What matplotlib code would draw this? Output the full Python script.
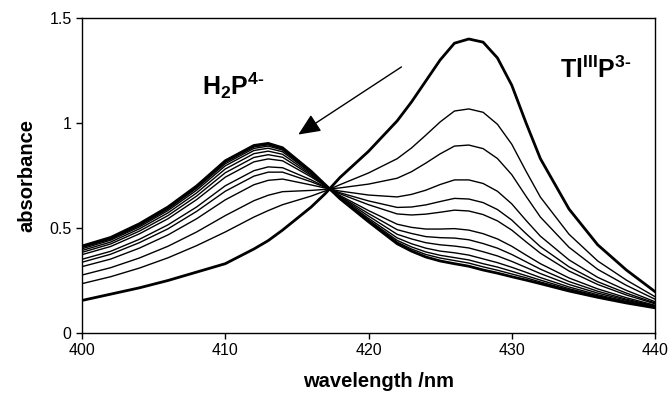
import matplotlib
matplotlib.use('Agg')
import matplotlib.pyplot as plt

plt.rcParams['font.family'] = ['Liberation Sans', 'DejaVu Sans']
plt.rcParams['mathtext.fontset'] = 'custom'
plt.rcParams['mathtext.rm'] = 'Liberation Sans'
plt.rcParams['mathtext.bf'] = 'Liberation Sans:bold'

# wavelength grid (nm)
wl = [400, 402, 404, 406, 408, 410, 412, 413, 414, 416, 417, 418, 420, 422,
      423, 424, 425, 426, 427, 428, 429, 430, 431, 432, 434, 436, 438, 440]

# spectra, from free base (H2P4-) to TlIIIP3-
s00 = [.414, .455, .520, .600, .700, .820, .893, .903, .882, .770, .705, .640, .530, .425,
       .390, .362, .343, .330, .318, .300, .285, .268, .252, .235, .200, .170, .143, .120]
s01 = [.410, .451, .516, .595, .694, .813, .886, .896, .876, .768, .704, .641, .535, .433,
       .400, .374, .357, .345, .333, .315, .299, .281, .263, .243, .206, .174, .145, .121]
s02 = [.407, .447, .511, .590, .689, .806, .879, .890, .871, .765, .704, .643, .539, .441,
       .410, .386, .370, .359, .348, .330, .314, .294, .273, .252, .211, .177, .147, .122]
s03 = [.401, .442, .505, .583, .680, .796, .869, .880, .863, .762, .703, .645, .546, .453,
       .425, .404, .390, .382, .371, .353, .335, .313, .289, .264, .219, .182, .151, .124]
s04 = [.393, .433, .496, .572, .667, .781, .854, .866, .851, .756, .702, .648, .557, .470,
       .448, .430, .420, .414, .405, .387, .367, .341, .312, .283, .231, .190, .156, .126]
s05 = [.384, .424, .485, .559, .652, .763, .836, .849, .837, .750, .700, .651, .569, .492,
       .474, .459, .454, .452, .444, .426, .404, .374, .339, .304, .245, .199, .161, .129]
s06 = [.373, .412, .472, .544, .635, .742, .815, .829, .820, .743, .699, .655, .583, .518,
       .503, .495, .495, .497, .490, .473, .448, .413, .371, .330, .262, .210, .168, .132]
s07 = [.351, .389, .446, .515, .600, .701, .773, .791, .787, .729, .695, .663, .611, .567,
       .562, .566, .575, .585, .581, .564, .534, .490, .434, .380, .295, .231, .181, .139]
s08 = [.337, .375, .430, .496, .579, .675, .747, .766, .766, .720, .693, .668, .629, .598,
       .600, .610, .626, .641, .638, .621, .588, .538, .473, .411, .315, .244, .190, .143]
s09 = [.316, .352, .404, .467, .544, .634, .706, .727, .733, .705, .690, .676, .657, .648,
       .660, .680, .707, .729, .729, .712, .675, .615, .536, .461, .348, .265, .203, .149]
s10 = [.276, .311, .357, .413, .481, .559, .630, .656, .673, .679, .684, .691, .709, .737,
       .768, .809, .853, .890, .895, .878, .831, .754, .651, .552, .408, .303, .227, .161]
s11 = [.235, .268, .309, .358, .416, .481, .552, .583, .611, .652, .677, .706, .762, .830,
       .881, .942, 1.005, 1.057, 1.067, 1.051, .994, .899, .770, .647, .470, .343, .252, .173]
s12 = [.155, .185, .215, .250, .290, .330, .400, .440, .490, .600, .665, .740, .865, 1.010,
       1.100, 1.200, 1.300, 1.380, 1.400, 1.385, 1.310, 1.180, 1.000, .830, .590, .420, .300, .197]

thin = [s01, s02, s03, s04, s05, s06, s07, s08, s09, s10, s11]

fig = plt.figure(figsize=(6.71, 3.93), dpi=100)
ax = fig.add_axes([82 / 671, 1 - 333 / 393, 573 / 671, 315 / 393])

for s in thin:
    ax.plot(wl, s, color='black', lw=1.0)
ax.plot(wl, s00, color='black', lw=2.0)
ax.plot(wl, s12, color='black', lw=2.0)

ax.set_xlim(400, 440)
ax.set_ylim(0, 1.5)
ax.set_xticks([400, 410, 420, 430, 440])
ax.set_yticks([0, 0.5, 1, 1.5])
ax.set_yticklabels(['0', '0.5', '1', '1.5'])
ax.tick_params(direction='out', length=4, width=1, labelsize=11.5, colors='black')
for sp in ax.spines.values():
    sp.set_linewidth(1.0)

ax.set_xlabel('wavelength /nm', fontsize=14.5, fontweight='bold', labelpad=11)
ax.xaxis.set_label_coords(0.517, -0.125)
ax.set_ylabel('absorbance', fontsize=14.5, fontweight='bold', labelpad=9)

ax.text(408.4, 1.133, '$\\mathbf{H_2P^{4\u2010}}$', fontsize=18, ha='left', va='baseline')
ax.text(433.4, 1.214, '$\\mathbf{Tl^{III}P^{3\u2010}}$', fontsize=18, ha='left', va='baseline')

ax.annotate('', xy=(415.1, 0.945), xytext=(422.3, 1.267),
            arrowprops=dict(arrowstyle='-|>,head_length=0.9,head_width=0.4',
                            color='black', lw=1.0, mutation_scale=15, shrinkA=0, shrinkB=0))

fig.savefig('out.png', dpi=100)
